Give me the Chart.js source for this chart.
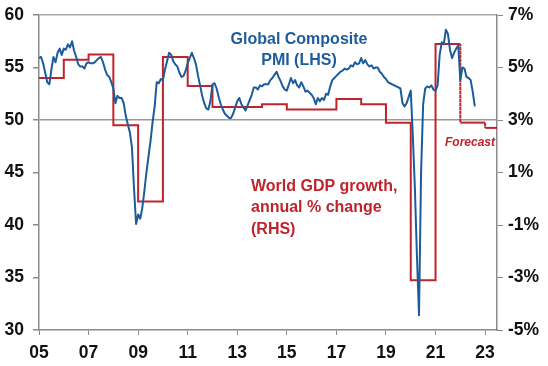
<!DOCTYPE html>
<html>
<head>
<meta charset="utf-8">
<script src="https://cdn.jsdelivr.net/npm/chart.js@4.4.1/dist/chart.umd.min.js"></script>
<style>
	html, body { margin: 0; padding: 0; background: #fff; }
	#wrap { width: 548px; height: 366px; }
</style>
</head>
<body>
<div id="wrap"><canvas id="pmiChart"></canvas></div>
<script>
	// Global Composite PMI, monthly from Jan 2005 (LHS)
	var pmiStartYear = 2005;
	var pmiValues = [
		55.9, 56.0, 55.4, 54.5, 53.6, 53.4, 54.8, 56.0, 55.5, 56.4, 56.8, 56.2,
		56.8, 56.7, 57.2, 56.9, 57.5, 56.6, 56.0, 55.3, 55.1, 55.1, 54.9, 55.4,
		55.5, 55.4, 55.4, 55.5, 55.7, 55.9, 56.0, 55.5, 54.8, 54.3, 54.1, 53.6,
		53.0, 51.6, 52.3, 52.1, 52.1, 51.6, 50.4, 49.6, 48.8, 47.4, 43.5, 40.1,
		41.0, 40.6, 41.6, 43.2, 45.0, 46.5, 48.0, 49.8, 51.3, 53.6, 53.5, 53.9,
		53.8, 54.8, 55.6, 56.4, 56.2, 55.6, 55.3, 55.1, 54.5, 54.1, 54.2, 54.7,
		55.4, 55.9, 56.4, 55.9, 55.3, 54.2, 53.3, 52.3, 51.6, 51.1, 51.0, 51.8,
		53.4, 53.5, 53.0, 52.2, 51.5, 51.0, 50.6, 50.4, 50.2, 50.2, 50.6, 51.2,
		51.8, 52.1, 51.5, 51.2, 50.9, 51.4, 51.9, 52.4, 53.1, 53.1, 52.9, 53.3,
		53.2, 53.4, 53.4, 53.4, 53.8, 54.0, 54.3, 54.6, 54.1, 53.7, 53.2, 52.9,
		52.8, 53.4, 54.0, 53.5, 53.8, 53.3, 53.1, 53.6, 53.2, 52.7, 52.8, 52.6,
		52.4, 52.1, 51.5, 52.1, 51.8, 52.1, 51.9, 52.5, 52.4, 53.2, 53.8, 54.0,
		54.2, 54.4, 54.6, 54.7, 54.9, 54.8, 54.9, 55.2, 55.1, 55.5, 55.3, 55.4,
		55.9, 55.4, 55.7, 55.3, 55.1, 55.2, 54.9, 55.0, 55.0, 54.6, 54.4, 54.1,
		53.9, 53.6, 53.5, 53.4, 53.3, 53.2, 53.1, 53.0, 51.6, 51.3, 51.6, 52.2,
		52.8, 48.5, 43.5, 37.0, 31.4, 45.0, 51.5, 53.0, 53.2, 53.1, 53.3, 52.9,
		52.8, 53.3, 56.2, 57.4, 57.2, 58.6, 58.2, 56.7, 55.9, 56.4, 56.8, 57.1,
		53.8, 55.0, 54.9, 54.1, 54.0, 53.8, 52.7, 51.3
	];

	// World GDP growth, annual % change (RHS); 2022-23 are forecasts
	var gdpYears  = [ 2005, 2006, 2007, 2008, 2009, 2010, 2011, 2012, 2013, 2014, 2015, 2016, 2017, 2018, 2019, 2020, 2021, 2022, 2023 ];
	var gdpGrowth = [ 4.6, 5.3, 5.5, 2.8, -0.1, 5.4, 4.3, 3.5, 3.5, 3.6, 3.4, 3.4, 3.8, 3.6, 2.9, -3.1, 5.9, 2.9, 2.7 ];
	var forecastFrom = 2022;

	var xTickYears  = [ 2005, 2007, 2009, 2011, 2013, 2015, 2017, 2019, 2021, 2023 ];
	var xTickLabels = [ '05', '07', '09', '11', '13', '15', '17', '19', '21', '23' ];
	var xMin = 2005;
	var xMax = 2023.48;

	var FONT = '"Liberation Sans", Arial, sans-serif';
	var BLUE = '#1d5c9b';
	var RED  = '#c1232c';
	var AXIS = '#8a8a8a';
	var TICK_FONT = { family: FONT, size: 17.5, weight: 'bold' };

	var pmiPoints = pmiValues.map( function( v, i ) {
		return { x: pmiStartYear + i / 12, y: v };
	});

	// step line built from the annual values
	var gdpPoints = [];
	for ( var i = 0; i < gdpYears.length; i++ ) {
		var end = i + 1 < gdpYears.length ? gdpYears[i + 1] : xMax;
		gdpPoints.push( { x: gdpYears[i], y: gdpGrowth[i] } );
		gdpPoints.push( { x: end, y: gdpGrowth[i] } );
	}

	// fixed box sizes so the plot area sits where the original does
	function fitVertical( width ) {
		return function( scale ) {
			scale.width = width;
			scale.paddingTop = 0;
			scale.paddingBottom = 0;
		};
	}

	var notesPlugin = {
		id: 'notes',
		afterDraw: function( chart ) {
			var ctx = chart.ctx;
			ctx.save();
			ctx.textBaseline = 'middle';

			ctx.font = 'bold 16px ' + FONT;
			ctx.fillStyle = BLUE;
			ctx.textAlign = 'center';
			ctx.fillText( 'Global Composite', 299, 40 );
			ctx.fillText( 'PMI (LHS)', 299, 61 );

			ctx.fillStyle = RED;
			ctx.textAlign = 'left';
			ctx.fillText( 'World GDP growth,', 251, 187 );
			ctx.fillText( 'annual % change', 251, 208 );
			ctx.fillText( '(RHS)', 251, 230 );

			ctx.font = 'italic bold 12px ' + FONT;
			ctx.fillText( 'Forecast', 445, 143 );
			ctx.restore();
		}
	};

	new Chart( document.getElementById( 'pmiChart' ).getContext( '2d' ), {
		type: 'line',
		data: {
			datasets: [
				{
					label: 'Global Composite PMI',
					data: pmiPoints,
					yAxisID: 'y',
					borderColor: BLUE,
					borderWidth: 2,
					borderJoinStyle: 'round',
					pointRadius: 0,
					tension: 0,
					order: 0
				},
				{
					label: 'World GDP growth',
					data: gdpPoints,
					yAxisID: 'y1',
					borderColor: RED,
					borderWidth: 2,
					pointRadius: 0,
					tension: 0,
					order: 1,
					segment: {
						borderDash: function( c ) {
							var vertical = c.p0.parsed.x === c.p1.parsed.x;
							return vertical && c.p0.parsed.x >= forecastFrom ? [ 2, 2 ] : undefined;
						}
					}
				}
			]
		},
		options: {
			responsive: true,
			maintainAspectRatio: false,
			animation: false,
			layout: { padding: { top: 15, left: 0, right: 0, bottom: 0 } },
			plugins: {
				legend: { display: false },
				tooltip: { enabled: false }
			},
			scales: {
				x: {
					type: 'linear',
					min: xMin,
					max: xMax,
					afterBuildTicks: function( scale ) {
						scale.ticks = xTickYears.map( function( y ) { return { value: y }; } );
					},
					afterFit: function( scale ) {
						scale.height = 36;
						scale.paddingLeft = 0;
						scale.paddingRight = 0;
					},
					ticks: {
						autoSkip: false,
						maxRotation: 0,
						padding: 8,
						color: '#111',
						font: TICK_FONT,
						callback: function( v ) {
							var idx = xTickYears.indexOf( v );
							return idx >= 0 ? xTickLabels[idx] : '';
						}
					},
					grid: { drawOnChartArea: false, tickLength: 5, tickColor: AXIS },
					border: { color: AXIS, width: 1.5 }
				},
				y: {
					position: 'left',
					min: 30,
					max: 60,
					afterFit: fitVertical( 39 ),
					ticks: {
						stepSize: 5,
						padding: 9,
						color: '#111',
						font: TICK_FONT
					},
					grid: {
						tickLength: 6,
						tickColor: AXIS,
						lineWidth: 1.5,
						color: function( c ) {
							if ( c.tick && c.tick.value === 50 ) return '#9a9a9a';
							if ( c.tick && c.tick.value === 60 ) return '#a8a8a8';
							return 'rgba(0,0,0,0)';
						}
					},
					border: { color: AXIS, width: 1.5 }
				},
				y1: {
					position: 'right',
					min: -5,
					max: 7,
					afterFit: fitVertical( 51 ),
					ticks: {
						stepSize: 2,
						padding: 5,
						color: '#111',
						font: TICK_FONT,
						callback: function( v ) { return v + '%'; }
					},
					grid: { drawOnChartArea: false, tickLength: 6, tickColor: AXIS },
					border: { color: AXIS, width: 1.5 }
				}
			}
		},
		plugins: [ notesPlugin ]
	});
</script>
</body>
</html>
